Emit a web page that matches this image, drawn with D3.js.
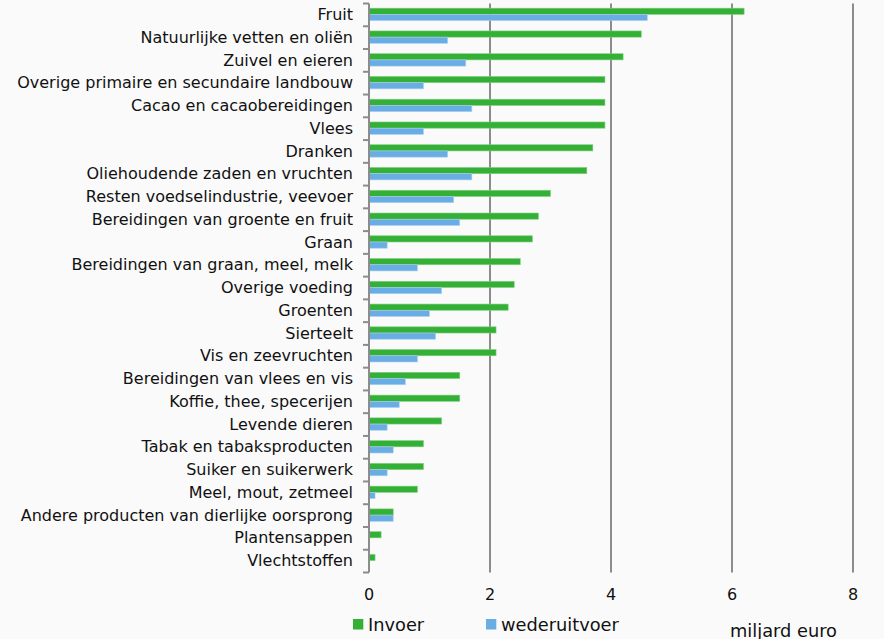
<!DOCTYPE html>
<html>
<head>
<meta charset="utf-8">
<script src="https://cdn.jsdelivr.net/npm/d3@7"></script>
<style>
  body { margin: 0; background: #fafafa; }
  svg { display: block; font-family: "DejaVu Sans", Verdana, sans-serif; }
</style>
</head>
<body>
<svg id="chart" width="884" height="639"></svg>
<script>
// categories, top to bottom
var categories = ["Fruit", "Natuurlijke vetten en oliën", "Zuivel en eieren",
  "Overige primaire en secundaire landbouw", "Cacao en cacaobereidingen", "Vlees",
  "Dranken", "Oliehoudende zaden en vruchten", "Resten voedselindustrie, veevoer",
  "Bereidingen van groente en fruit", "Graan", "Bereidingen van graan, meel, melk",
  "Overige voeding", "Groenten", "Sierteelt", "Vis en zeevruchten",
  "Bereidingen van vlees en vis", "Koffie, thee, specerijen", "Levende dieren",
  "Tabak en tabaksproducten", "Suiker en suikerwerk", "Meel, mout, zetmeel",
  "Andere producten van dierlijke oorsprong", "Plantensappen", "Vlechtstoffen"];

// miljard euro
var invoer = [6.2, 4.5, 4.2, 3.9, 3.9, 3.9, 3.7, 3.6, 3.0, 2.8, 2.7, 2.5, 2.4,
  2.3, 2.1, 2.1, 1.5, 1.5, 1.2, 0.9, 0.9, 0.8, 0.4, 0.2, 0.1];
var wederuitvoer = [4.6, 1.3, 1.6, 0.9, 1.7, 0.9, 1.3, 1.7, 1.4, 1.5, 0.3, 0.8, 1.2,
  1.0, 1.1, 0.8, 0.6, 0.5, 0.3, 0.4, 0.3, 0.1, 0.4, 0, 0];

var xTicks = [0, 2, 4, 6, 8];
var seriesNames = ["Invoer", "wederuitvoer"];
var seriesColors = ["#33b035", "#6aade4"];

function draw(){
  var svg = d3.select("#chart");
  var pLeft = 369, pRight = 853, pTop = 3.5, pBottom = 572.5;

  var x = d3.scaleLinear().domain([0, 8]).range([pLeft, pRight]);
  var y = d3.scaleBand().domain(categories).range([pTop, pBottom]);
  var barH = 6.2;

  // gridlines
  svg.append("g").selectAll("line")
    .data(xTicks.slice(1))
    .enter().append("line")
    .attr("x1", function(d){ return x(d); })
    .attr("x2", function(d){ return x(d); })
    .attr("y1", pTop).attr("y2", pBottom)
    .attr("stroke", "#8c8c8c").attr("stroke-width", 2);

  // bars
  var rows = svg.append("g").selectAll("g")
    .data(categories)
    .enter().append("g")
    .attr("transform", function(d){ return "translate(0," + y(d) + ")"; });

  var mid = y.bandwidth() / 2 - 0.5;
  rows.append("rect")
    .attr("x", x(0))
    .attr("y", mid - barH)
    .attr("height", barH)
    .attr("width", function(d, i){ return x(invoer[i]) - x(0); })
    .attr("fill", seriesColors[0])
    .attr("stroke", "#7fd07f").attr("stroke-width", 0.6);
  rows.append("rect")
    .attr("x", x(0))
    .attr("y", mid)
    .attr("height", barH)
    .attr("width", function(d, i){ return x(wederuitvoer[i]) - x(0); })
    .attr("fill", seriesColors[1])
    .attr("stroke", "#a9d0f0").attr("stroke-width", 0.6)
    .style("display", function(d, i){ return wederuitvoer[i] > 0 ? null : "none"; });

  // y axis
  var yAxis = svg.append("g")
    .attr("transform", "translate(" + pLeft + ",0)");
  yAxis.append("line")
    .attr("x1", 0).attr("x2", 0).attr("y1", pTop).attr("y2", pBottom)
    .attr("stroke", "#8c8c8c").attr("stroke-width", 2);
  yAxis.selectAll(".tk")
    .data(d3.range(categories.length + 1))
    .enter().append("line")
    .attr("class", "tk")
    .attr("x1", -6).attr("x2", 0)
    .attr("y1", function(i){ return pTop + i * y.step(); })
    .attr("y2", function(i){ return pTop + i * y.step(); })
    .attr("stroke", "#8c8c8c").attr("stroke-width", 2);
  yAxis.selectAll("text")
    .data(categories)
    .enter().append("text")
    .attr("x", -16)
    .attr("y", function(d){ return y(d) + y.bandwidth() / 2; })
    .attr("dy", "0.32em")
    .attr("text-anchor", "end")
    .attr("font-size", 16)
    .attr("fill", "#111")
    .text(function(d){ return d; });

  // x tick labels
  svg.append("g").selectAll("text")
    .data(xTicks)
    .enter().append("text")
    .attr("x", function(d){ return x(d); })
    .attr("y", 600)
    .attr("text-anchor", "middle")
    .attr("font-size", 16)
    .attr("fill", "#111")
    .text(function(d){ return d; });

  // legend
  var legX = [353, 486];
  var leg = svg.append("g").selectAll("g")
    .data(seriesNames)
    .enter().append("g")
    .attr("transform", function(d, i){ return "translate(" + legX[i] + ",619)"; });
  leg.append("rect")
    .attr("width", 10.3).attr("height", 10.5)
    .attr("fill", function(d, i){ return seriesColors[i]; });
  leg.append("text")
    .attr("x", 15).attr("y", 11.8)
    .attr("font-size", 17.8)
    .attr("fill", "#111")
    .text(function(d){ return d; });

  svg.append("text")
    .attr("x", 837).attr("y", 636.5)
    .attr("text-anchor", "end")
    .attr("font-size", 17.8)
    .attr("fill", "#111")
    .text("miljard euro");
}
draw();
</script>
</body>
</html>
